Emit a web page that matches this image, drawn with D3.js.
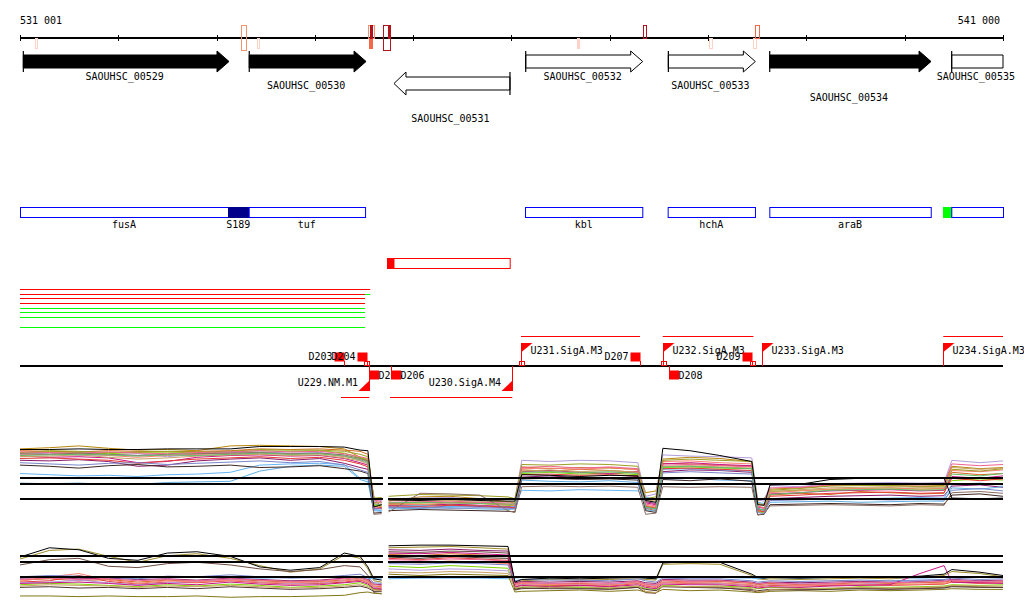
<!DOCTYPE html>
<html><head><meta charset="utf-8">
<script src="https://cdn.jsdelivr.net/npm/d3@7"></script>
<style>
body{margin:0;background:#fff}
svg{display:block}
text{font-family:"DejaVu Sans Mono",monospace;font-size:10px;fill:#000}
</style>
</head><body>
<svg id="chart" width="1024" height="611"></svg>
<script>
// ---------------- DATA ----------------
const axisDomain = [531001, 541000];
const tickValues = [531000,532000,533000,534000,535000,536000,537000,538000,539000,540000,541000];
const axisLabels = ["531 001", "541 000"];

const geneNames = ["SAOUHSC_00529","SAOUHSC_00530","SAOUHSC_00531","SAOUHSC_00532","SAOUHSC_00533","SAOUHSC_00534","SAOUHSC_00535"];
const geneStart = [531035, 533333, 534805, 536145, 537596, 538627, 540478];
const geneEnd   = [533127, 534521, 535985, 537335, 538481, 540268, 541400];
const geneStrand = [1, 1, -1, 1, 1, 1, 1];
const geneEssential = [true, true, false, false, false, true, false];

const featureNames = ["", "fusA", "S189", "tuf", "kbl", "hchA", "araB", "", ""];
const featureStart = [531001, 531001, 533117, 533327, 536138, 537589, 538623, 540390, 540474];
const featureEnd   = [531035, 533117, 533327, 534511, 537331, 538477, 540265, 540474, 541000];
const featureKind  = ["dark", "cds", "dark", "cds", "cds", "cds", "cds", "green", "cds"];

const antisenseStart = 534734, antisenseEnd = 535982, antisenseHead = 534805;

const condStart = [531001, 531001, 534511, 531001, 531001, 531001, 531001, 531001, 531001];
const condEnd   = [534564, 534511, 534564, 534511, 534511, 534511, 534511, 534511, 534511];
const condRow   = [0, 1, 1, 2, 3, 4, 5, 6, 7];
const condKind  = ["up", "up", "down", "up", "up", "down", "down", "down", "down"];

const markerStart = [531150, 533249, 533412, 534540, 534554, 534560, 534696, 534740, 536667, 537335, 538012, 538457, 538477];
const markerEnd   = [531172, 533300, 533432, 534598, 534581, 534580, 534764, 534764, 536687, 537369, 538039, 538488, 538515];
const markerSide  = ["down", "both", "down", "up", "down", "up", "both", "up", "down", "up", "down", "down", "up"];
const markerLevel = [0, 1, 0, 1, 2, 3, 3, 3, 0, 3, 0, 0, 2];
const markerFilled = [false, false, false, false, true, true, false, true, true, false, false, false, false];

const promoterNames = ["U229.NM.M1", "U230.SigA.M4", "U231.SigA.M3", "U232.SigA.M3", "U233.SigA.M3", "U234.SigA.M3"];
const promoterPos = [534554, 536008, 536097, 537538, 538545, 540393];
const promoterStrand = [-1, -1, 1, 1, 1, 1];
const promoterTo = [534266, 534765, 537308, 538461, null, 541000];

const terminatorNames = ["D203", "D204", "D205", "D206", "D207", "D208", "D209"];
const terminatorPos = [534300, 534528, 534554, 534775, 537308, 537605, 538444];
const terminatorStrand = [1, 1, -1, -1, 1, -1, 1];

const tssMarks = [534528, 536112, 537550, 538460];

const exprPos = [531001,531300,531600,531900,532200,532500,532800,533140,533440,533750,534050,534300,534460,
  534540,534600,534680,534710,
  534750,535070,535375,535680,535965,536035,
  536105,536390,536695,537000,537285,
  537365,537470,
  537540,537815,538120,538445,
  538505,538570,
  538630,538935,539240,539545,539850,540155,540400,
  540480,540765,541000];
const exprGap = [534693, 534744];

// Track 1 (upper expression panel)
const track1Ref = [8, 7, 4.5];
const track1Colors = ["#b8860b","#d2691e","#7fd400","#8b1a6b","#c71585","#64b5f6","#5dade2","#b39ddb","#3e2723","#fa8072","#e53935","#9e9d24","#f06292","#c8a165","#8d6e63","#7986cb","#66bb6a","#000000"];
const track1Series = [
  [12.9,13.1,13.4,13.0,12.7,12.8,12.6,13.4,13.5,13.4,13.3,12.9,11.5, 11.0,5.0,2.8, null, 4.2,4.9,5.0,4.6,4.1,3.9, 9.9,9.6,9.8,9.7,9.5, 5.6,5.9, 11.2,11.5,11.3,10.8, 4.2,4.6, 6.2,6.4,6.8,6.9,6.8,6.7,6.8, 10.0,9.6,9.8],
  [12.6,12.5,12.4,12.6,12.5,12.4,12.5,12.6,12.9,12.8,12.9,12.7,12.5, 12.0,4.5,3.2, null, 3.8,3.9,4.0,3.9,3.7,3.5, 9.4,9.2,9.5,9.3,9.0, 3.0,2.6, 10.5,10.4,10.2,10.0, 2.8,2.4, 5.2,5.5,5.3,5.8,5.6,5.4,5.5, 9.0,8.6,8.8],
  [12.2,12.4,12.3,12.1,12.3,12.4,12.2,12.3,12.6,12.5,12.6,12.2,11.4, 11.2,3.5,3.4, null, 3.6,3.7,3.6,3.8,3.5,3.4, 8.8,9.0,8.7,8.9,8.6, 3.4,3.1, 9.8,9.9,9.7,9.6, 2.5,2.2, 5.8,6.0,6.1,6.3,6.4,6.2,6.3, 7.6,7.9,7.7],
  [11.0,10.9,11.1,10.8,10.0,10.2,10.9,11.2,11.4,11.0,11.3,10.5,9.8, 9.5,4.0,3.9, null, 3.2,3.0,3.4,3.3,3.1,3.0, 8.2,8.4,8.1,8.0,8.3, 4.1,3.8, 9.1,9.4,9.3,9.0, 2.9,2.7, 4.6,4.8,5.0,5.1,5.2,5.0,5.1, 6.7,6.9,6.5],
  [11.7,11.5,11.6,11.4,10.6,10.8,11.5,11.8,11.9,11.7,11.8,11.3,10.6, 10.2,3.0,3.0, null, 3.5,3.4,3.7,3.5,3.3,3.2, 9.1,9.3,9.0,8.8,9.1, 3.9,3.6, 10.4,10.6,10.3,10.1, 3.2,3.0, 5.4,5.6,5.9,6.0,6.1,5.9,6.0, 8.3,8.0,8.4],
  [8.8,8.6,8.4,8.5,8.3,8.6,8.7,9.0,10.2,10.4,10.5,10.3,8.0, 7.8,2.8,2.6, null, 3.3,3.5,3.3,3.4,3.2,3.3, 6.0,5.9,6.1,6.0,5.9, 4.8,4.6, 7.8,8.0,7.7,7.6, 4.0,3.8, 4.4,4.5,4.6,4.6,4.7,4.8,4.7, 7.0,7.2,6.9],
  [7.2,7.1,7.2,7.0,7.0,7.3,7.4,7.5,9.2,10.0,10.2,10.0,7.8, 7.4,2.6,2.5, null, 2.9,3.0,3.1,2.9,2.8,2.9, 7.7,7.5,7.4,7.6,7.3, 2.8,2.5, 9.5,9.6,9.4,9.2, 3.0,2.6, 4.0,4.1,4.2,4.0,4.1,4.2,4.2, 6.4,6.2,6.6],
  [12.0,12.2,11.8,11.9,12.1,11.6,12.0,12.3,12.4,12.2,12.3,11.8,11.0, 10.5,4.2,4.3, null, 4.6,4.7,4.8,4.5,4.6,4.4, 11.0,10.8,11.0,10.9,10.6, 5.0,5.4, 11.9,11.7,11.6,11.4, 4.4,4.2, 6.8,6.6,7.1,7.2,7.3,7.2,7.3, 11.0,10.6,10.9],
  [10.2,10.0,9.7,10.1,10.3,9.9,10.0,10.2,9.8,9.9,10.1,9.6,9.2, 8.8,2.2,2.3, null, 2.6,2.8,2.7,2.6,2.5,2.4, 7.9,8.0,7.8,7.9,7.7, 2.6,2.3, 7.8,7.6,7.9,7.5, 1.9,2.0, 3.6,3.7,3.8,3.7,3.6,3.8,3.7, 5.2,5.4,5.0],
  [11.9,12.0,12.1,11.8,11.5,11.8,12.0,12.1,12.2,12.0,12.1,11.6,11.2, 10.8,3.8,3.5, null, 3.7,3.6,3.9,3.8,3.6,3.5, 9.6,9.7,9.5,9.8,9.4, 3.5,3.2, 10.8,10.9,10.6,10.4, 3.4,3.1, 5.6,5.9,6.2,6.3,6.4,6.2,6.3, 9.3,9.1,9.4],
  [11.3,11.4,11.2,11.0,10.5,10.9,11.2,11.4,11.6,11.3,11.5,11.0,10.4, 9.9,3.3,3.1, null, 3.4,3.3,3.5,3.4,3.2,3.1, 8.6,8.7,8.5,8.6,8.4, 3.3,3.0, 9.6,9.7,9.5,9.3, 2.6,2.4, 5.0,5.2,5.5,5.6,5.7,5.5,5.6, 8.0,7.6,7.9],
  [12.3,12.6,12.5,12.3,12.4,12.5,12.4,12.5,12.8,12.7,12.7,12.5,12.0, 11.6,4.7,4.8, null, 5.0,5.3,5.2,5.1,4.9,4.6, 10.3,10.2,10.4,10.3,10.0, 4.6,4.9, 11.0,11.2,11.0,10.8, 3.8,3.6, 6.0,6.3,6.7,6.8,6.8,6.6,6.7, 9.5,9.2,9.6],
  [12.4,12.3,12.2,12.4,12.2,12.1,12.3,12.4,12.6,12.4,12.5,12.1,11.6, 11.3,4.4,4.1, null, 4.0,4.1,4.2,4.0,3.9,3.8, 9.8,10.0,9.7,9.9,9.6, 3.7,3.4, 10.2,10.3,10.1,9.9, 3.3,3.0, 6.4,6.5,6.9,7.0,7.0,6.9,7.0, 10.4,10.1,10.3],
  [11.6,11.7,11.9,11.5,11.2,11.4,11.7,11.9,12.0,11.8,11.9,11.4,10.9, 10.4,3.9,4.0, null, 4.3,4.4,4.3,4.2,4.1,4.0, 9.2,9.4,9.1,9.3,9.0, 4.4,4.2, 10.0,10.1,9.9,9.7, 3.7,3.5, 5.8,6.1,6.4,6.5,6.6,6.5,6.5, 9.8,9.5,9.7],
  [12.1,12.0,12.2,12.0,11.8,12.0,12.1,12.2,12.3,12.1,12.2,11.9,11.3, 10.9,2.0,2.1, null, 2.4,5.5,5.4,5.2,2.6,2.3, 6.6,6.7,6.6,6.7,6.5, 2.0,2.2, 6.6,6.5,6.6,6.5, 1.9,2.1, 3.4,3.5,3.6,3.5,3.4,3.6,3.5, 5.6,5.8,5.5],
  [10.6,10.4,10.2,10.5,10.6,10.3,10.5,10.7,10.9,10.6,10.8,10.2,9.4, 9.0,2.9,2.9, null, 3.1,3.2,3.0,3.1,3.0,2.9, 8.0,8.2,7.9,8.1,7.9, 3.1,2.8, 8.9,9.1,8.9,8.7, 2.3,2.1, 4.3,4.4,4.6,4.5,4.4,4.5,4.4, 6.0,6.3,5.9],
  [11.8,11.9,12.0,11.9,11.7,11.9,11.8,12.0,12.2,12.0,12.1,11.7,11.1, 10.7,3.7,3.6, null, 3.9,4.0,3.9,3.8,3.7,3.7, 9.0,9.1,8.9,9.1,8.8, 3.2,2.9, 9.9,10.0,9.8,9.6, 3.0,2.7, 5.3,5.6,6.0,6.1,6.2,6.0,6.1, 8.7,8.4,8.8],
  [12.8,12.8,12.9,12.8,12.8,12.9,12.9,12.9,13.3,13.3,13.3,13.2,12.7, 12.6,3.2,3.6, null, 4.4,4.3,4.5,4.3,4.2,4.2, 8.6,8.5,8.3,8.5,8.4, 4.3,4.0, 13.0,12.6,11.8,10.8, 3.6,3.5, 6.9,7.0,7.8,8.0,8.0,8.1,8.1, 4.7,4.6,4.7]
];

// Track 2 (lower expression panel)
const track2Ref = [9, 8, 5.73];
const track2Colors = ["#a08c2a","#6d4c41","#d2691e","#e53935","#7fd400","#8b1a6b","#64b5f6","#b39ddb","#fa8072","#827717","#c71585","#4e342e","#c8a165","#f06292","#7986cb","#000000"];
const track2Series = [
  [8.5,9.8,10.0,8.9,8.0,9.0,9.3,8.6,7.5,6.5,7.0,9.1,8.6, 7.0,5.2,5.0, null, 10.2,10.3,10.4,10.2,10.0, 4.8,5.2,5.4,5.3,5.4,5.5,5.4,5.3,7.7,7.8,7.7,6.0,5.5,5.4,5.5,5.4,5.5,5.6,5.5,5.7,6.0,6.6,6.3,5.8],
  [7.6,8.4,8.6,7.4,7.2,7.8,8.0,7.6,7.0,6.6,6.9,7.5,7.3, 6.0,3.4,3.2, null, 9.6,9.5,9.7,9.6,9.4, 3.8,4.0,4.2,4.1,4.0,4.2,3.4,3.3,4.4,4.3,4.2,3.7,3.5,3.6,3.8,3.9,4.0,4.1,4.0,4.1,4.2,4.4,4.3,4.2],
  [5.3,5.5,5.2,5.4,5.0,5.3,5.1,5.4,5.2,5.0,5.1,5.3,5.6, 5.2,4.4,4.3, null, 9.2,9.0,9.3,9.1,8.9, 4.6,4.9,4.7,4.8,4.6,5.0,4.7,4.5,5.2,5.0,5.1,4.8,4.6,4.7,4.8,4.6,4.7,4.9,4.8,4.9,5.0,5.2,5.0,5.1],
  [5.0,5.2,6.0,5.1,4.7,5.0,4.9,5.2,4.9,4.7,4.8,5.0,5.3, 4.9,4.1,4.0, null, 8.6,8.4,8.7,8.5,8.3, 4.3,4.6,4.5,4.5,4.4,4.8,4.4,4.2,4.9,4.8,4.8,4.5,4.3,4.4,4.5,4.4,4.5,4.6,4.5,4.6,4.7,5.0,4.8,4.9],
  [4.6,4.8,4.7,4.5,4.3,4.6,4.4,4.7,4.5,4.2,4.4,4.6,4.9, 4.5,3.9,3.8, null, 7.4,7.2,7.5,7.3,7.1, 4.0,4.2,4.4,4.2,4.1,4.4,4.0,3.9,4.5,4.3,4.4,4.2,4.0,4.1,4.2,4.1,4.0,4.3,4.2,4.3,4.4,4.6,4.5,4.6],
  [5.6,5.7,5.5,5.6,5.4,5.5,5.3,5.6,5.4,5.2,5.3,5.6,5.8, 5.4,4.7,4.6, null, 9.9,9.8,10.0,9.8,9.7, 4.9,5.1,5.0,5.1,5.0,5.2,4.9,4.8,5.4,5.3,5.3,5.0,4.8,4.9,5.0,4.9,5.0,5.1,5.0,5.1,5.3,5.4,5.2,5.3],
  [5.7,5.7,5.7,5.7,5.7,5.8,5.7,5.7,5.6,5.7,5.7,5.8,5.7, 5.6,5.5,5.5, null, 5.5,5.6,5.6,5.6,5.5, 5.6,5.7,5.6,5.8,5.7,5.7,5.6,5.6,5.7,5.8,5.7,5.6,5.5,5.6,5.7,5.6,5.7,5.8,5.7,5.6,5.7,5.8,5.7,5.7],
  [4.9,5.0,5.3,4.9,4.6,4.9,5.1,5.4,5.0,4.8,4.9,5.2,5.5, 5.0,4.2,4.1, null, 7.0,6.8,7.0,6.9,6.7, 4.4,4.7,4.8,4.6,4.7,4.9,4.6,4.4,5.0,4.9,4.8,4.6,4.4,4.5,4.6,4.8,4.6,4.7,5.0,5.2,5.4,5.3,5.1,5.0],
  [5.1,5.8,6.3,5.3,4.8,5.2,5.0,5.3,5.0,4.9,5.0,5.2,5.4, 5.0,4.3,4.2, null, 8.1,7.9,8.2,8.0,7.8, 4.5,4.8,4.6,4.7,4.5,4.9,4.5,4.3,5.0,4.9,4.9,4.6,4.4,4.5,4.6,4.5,4.6,4.7,4.6,4.7,4.8,5.1,4.9,5.0],
  [2.9,2.9,2.8,2.9,2.8,2.8,2.9,2.7,2.8,2.8,2.9,3.0,3.4, 3.5,3.3,3.3, null, 6.2,6.0,6.2,6.1,6.0, 3.5,3.6,3.7,3.8,3.6,3.8,3.5,3.4,3.9,3.7,3.8,3.5,3.4,3.5,3.6,3.7,3.6,3.8,3.7,3.8,3.9,4.0,3.9,3.9],
  [4.8,4.9,5.0,4.8,4.5,4.8,4.6,5.0,4.7,4.5,4.6,4.9,5.1, 4.7,4.0,3.9, null, 9.4,9.3,9.5,9.3,9.1, 4.2,4.5,4.3,4.5,4.3,4.6,4.2,4.0,4.7,4.6,4.6,4.3,4.1,4.2,4.3,4.2,4.4,4.5,4.6,6.3,7.5,5.0,4.9,4.8],
  [4.2,4.3,4.1,4.2,4.0,4.2,4.0,4.3,4.1,3.9,4.0,4.2,4.4, 4.1,3.6,3.6, null, 8.8,8.6,8.9,8.7,8.6, 3.9,4.1,4.0,4.0,3.9,4.2,3.9,3.7,4.3,4.2,4.1,3.9,3.7,3.8,3.9,3.8,3.9,4.0,3.9,4.0,4.1,4.3,4.2,4.2],
  [4.4,4.6,4.5,4.4,4.2,4.4,4.3,4.5,4.3,4.1,4.2,4.4,4.6, 4.3,3.8,3.7, null, 6.5,6.4,6.6,6.5,6.3, 4.1,4.3,4.2,4.3,4.1,4.4,3.6,3.4,4.4,4.3,4.3,4.0,3.6,3.5,3.9,4.0,4.1,4.2,4.1,4.2,4.3,4.5,4.4,4.4],
  [5.4,5.6,5.4,5.5,5.2,5.4,5.2,5.5,5.3,5.1,5.2,5.5,5.7, 5.3,4.6,4.5, null, 8.4,8.3,8.5,8.4,8.2, 4.7,5.0,4.8,4.9,4.8,5.1,4.7,4.6,5.3,5.1,5.2,4.9,4.7,4.8,4.9,4.7,4.8,5.0,4.9,5.0,5.1,5.3,5.1,5.2],
  [5.8,6.0,5.9,5.7,5.5,5.9,5.8,6.1,5.8,5.6,5.7,6.0,6.2, 5.7,4.9,4.8, null, 7.8,7.7,7.9,7.8,7.6, 5.2,5.4,5.3,5.3,5.2,5.5,5.2,5.0,5.6,5.5,5.5,5.2,5.0,5.1,5.2,5.1,5.2,5.3,5.2,5.3,5.4,5.6,5.4,5.5],
  [8.8,10.2,9.9,8.6,8.3,9.4,9.6,8.9,7.3,6.8,7.2,9.4,8.9, 7.3,5.5,5.3, null, 10.5,10.6,10.6,10.5,10.4, 5.0,5.4,5.6,5.5,5.6,5.7,5.6,5.5,7.9,8.1,8.0,6.2,5.7,5.6,5.7,5.6,5.7,5.8,5.7,5.9,6.2,6.9,6.5,6.0]
];

// ---------------- LAYOUT ----------------
const svg = d3.select("#chart");
const x = d3.scaleLinear().domain(axisDomain).range([20, 1003]);
const clampX = v => x(Math.max(axisDomain[0], Math.min(axisDomain[1], v)));
const RED = "#ff0000";

// axis
const axisG = svg.append("g");
axisG.append("line").attr("x1", x(axisDomain[0])).attr("x2", x(axisDomain[1]))
  .attr("y1", 38).attr("y2", 38).attr("stroke", "#000").attr("stroke-width", 2);
axisG.selectAll("line.tick").data(tickValues).join("line").attr("class", "tick")
  .attr("x1", d => Math.round(x(d)) + 0.5).attr("x2", d => Math.round(x(d)) + 0.5)
  .attr("y1", 35).attr("y2", 41).attr("stroke", "#000");
axisG.append("text").attr("x", 20).attr("y", 24).text(axisLabels[0]);
axisG.append("text").attr("x", 1000).attr("y", 24).attr("text-anchor", "end").text(axisLabels[1]);

// markers (above/below axis)
const levelColors = ["#fcd3c4", "#f4916f", "#f26848", "#b3131c"];
markerStart.forEach((s, i) => {
  const side = markerSide[i];
  const y0 = side === "down" ? 38 : 25, y1 = side === "up" ? 38 : (side === "both" ? 50 : 48);
  const x0 = x(s), w = Math.max(2, x(markerEnd[i]) - x0);
  svg.append("rect").attr("x", Math.round(x0) + 0.5).attr("y", y0 + 0.5)
    .attr("width", Math.round(w)).attr("height", y1 - y0)
    .attr("fill", markerFilled[i] ? levelColors[markerLevel[i]] : "none")
    .attr("stroke", levelColors[markerLevel[i]]);
});

// genes
const geneLabelY = [79.5, 88.5, 121.8, 79.5, 88.5, 101, 79.5];
geneNames.forEach((name, i) => {
  const s = clampX(geneStart[i]), e = clampX(geneEnd[i]);
  const truncated = geneEnd[i] > axisDomain[1];
  const fill = geneEssential[i] ? "#000" : "#fff";
  const h = 12;
  let pts, tick;
  if (geneStrand[i] > 0) {
    const b0 = 55, b1 = 68, hh0 = 51, hh1 = 72, c = 61.5;
    pts = truncated ? [[s,b0],[e,b0],[e,b1],[s,b1]]
      : [[s,b0],[e-h,b0],[e-h,hh0],[e,c],[e-h,hh1],[e-h,b1],[s,b1]];
    tick = [s, hh0, hh1];
  } else {
    const b0 = 77, b1 = 90, hh0 = 72, hh1 = 95, c = 83.5;
    pts = [[e,b0],[s+h,b0],[s+h,hh0],[s,c],[s+h,hh1],[s+h,b1],[e,b1]];
    tick = [e, hh0, hh1];
  }
  svg.append("polygon").attr("points", pts.map(p => p.join(",")).join(" "))
    .attr("fill", fill).attr("stroke", "#000").attr("stroke-width", 1);
  svg.append("line").attr("x1", tick[0]).attr("x2", tick[0]).attr("y1", tick[1]).attr("y2", tick[2])
    .attr("stroke", "#000").attr("stroke-width", 1.2);
  svg.append("text").attr("x", (s + e) / 2 - 1.5).attr("y", geneLabelY[i])
    .attr("text-anchor", "middle").text(name);
});

// feature annotation row
const featColor = {cds: "#fff", dark: "#00008b", green: "#00ff00"};
featureStart.forEach((s, i) => {
  const x0 = x(s), x1 = x(featureEnd[i]);
  svg.append("rect").attr("x", x0 + 0.5).attr("y", 207.5).attr("width", x1 - x0).attr("height", 10)
    .attr("fill", featColor[featureKind[i]])
    .attr("stroke", featureKind[i] === "green" ? "#00ff00" : (featureKind[i] === "dark" ? "#00008b" : "#0000ff"));
  if (featureNames[i]) svg.append("text").attr("x", (x0 + x1) / 2).attr("y", 228)
    .attr("text-anchor", "middle").text(featureNames[i]);
});

// antisense box
svg.append("rect").attr("x", x(antisenseStart) + 0.5).attr("y", 258.5)
  .attr("width", x(antisenseEnd) - x(antisenseStart)).attr("height", 10)
  .attr("fill", "#fff").attr("stroke", RED);
svg.append("rect").attr("x", x(antisenseStart) + 0.5).attr("y", 258.5)
  .attr("width", x(antisenseHead) - x(antisenseStart)).attr("height", 10).attr("fill", RED);

// condition lines
const condRowY = [289.5, 294.5, 298.5, 303.5, 308.5, 312.5, 317.5, 327.5];
const condColors = {up: "#ff0000", down: "#00ff00"};
condStart.forEach((s, i) => {
  svg.append("line").attr("x1", x(s)).attr("x2", x(condEnd[i]))
    .attr("y1", condRowY[condRow[i]]).attr("y2", condRowY[condRow[i]])
    .attr("stroke", condColors[condKind[i]]).attr("stroke-width", 1);
});

// promoter / terminator track
const baseY = 366;
svg.append("line").attr("x1", 20).attr("x2", 1003).attr("y1", baseY).attr("y2", baseY)
  .attr("stroke", "#000").attr("stroke-width", 2);

const elements = [];
promoterNames.forEach((n, i) => elements.push({type: "P", name: n, pos: promoterPos[i], strand: promoterStrand[i], to: promoterTo[i]}));
terminatorNames.forEach((n, i) => elements.push({type: "T", name: n, pos: terminatorPos[i], strand: terminatorStrand[i]}));
elements.sort((a, b) => a.pos - b.pos);

const pg = svg.append("g");
elements.filter(e => e.type === "P" && e.to != null).forEach(e => {
  const yy = e.strand > 0 ? 336.5 : 397.5;
  pg.append("line").attr("x1", x(e.pos)).attr("x2", clampX(e.to)).attr("y1", yy).attr("y2", yy)
    .attr("stroke", RED).attr("stroke-width", 1);
});
tssMarks.forEach(p => {
  pg.append("rect").attr("x", Math.round(x(p)) - 2.5).attr("y", 361.5).attr("width", 5).attr("height", 4)
    .attr("fill", "none").attr("stroke", RED);
});
elements.forEach(e => {
  const p = Math.round(x(e.pos)) + 0.5;
  if (e.type === "P") {
    if (e.strand > 0) {
      pg.append("line").attr("x1", p).attr("x2", p).attr("y1", baseY).attr("y2", 343).attr("stroke", RED);
      pg.append("polygon").attr("points", `${p},343 ${p+11},343 ${p},352`).attr("fill", RED);
      pg.append("text").attr("x", p + 9).attr("y", 353.5).text(e.name);
    } else {
      pg.append("line").attr("x1", p).attr("x2", p).attr("y1", baseY).attr("y2", 391).attr("stroke", RED);
      pg.append("polygon").attr("points", `${p},380.5 ${p},391 ${p-11},391`).attr("fill", RED);
      pg.append("text").attr("x", p - 11.5).attr("y", 386).attr("text-anchor", "end").text(e.name);
    }
  } else {
    if (e.strand > 0) {
      pg.append("line").attr("x1", p).attr("x2", p).attr("y1", 361).attr("y2", baseY).attr("stroke", RED);
      pg.append("rect").attr("x", p - 10).attr("y", 352.5).attr("width", 10).attr("height", 9).attr("fill", RED);
      pg.append("text").attr("x", p - 12).attr("y", 360.2).attr("text-anchor", "end").text(e.name);
    } else {
      pg.append("line").attr("x1", p).attr("x2", p).attr("y1", baseY).attr("y2", 371).attr("stroke", RED);
      pg.append("rect").attr("x", p - 0.5).attr("y", 370.5).attr("width", 10).attr("height", 9).attr("fill", RED);
      pg.append("text").attr("x", p + 9).attr("y", 378.5).text(e.name);
    }
  }
});

// expression tracks
function drawTrack(series, colors, refVals, y) {
  const g = svg.append("g");
  const line = d3.line().defined(d => d[1] != null).x(d => x(d[0])).y(d => y(d[1]));
  series.forEach((vals, i) => {
    g.append("path").datum(exprPos.map((p, k) => [p, vals[k]]))
      .attr("d", line).attr("fill", "none").attr("stroke", colors[i]).attr("stroke-width", 1);
  });
  refVals.forEach(v => {
    [[axisDomain[0], exprGap[0]], [exprGap[1], axisDomain[1]]].forEach(seg => {
      g.append("line").attr("x1", x(seg[0])).attr("x2", x(seg[1]))
        .attr("y1", Math.round(y(v))).attr("y2", Math.round(y(v)))
        .attr("stroke", "#000").attr("stroke-width", 2);
    });
  });
}
const y1 = d3.scaleLinear().domain([0, 16]).range([526.3, 430.3]);
const y2 = d3.scaleLinear().domain([0, 10]).range([615.1, 549.1]);
drawTrack(track1Series, track1Colors, track1Ref, y1);
drawTrack(track2Series, track2Colors, track2Ref, y2);
</script>
</body></html>
